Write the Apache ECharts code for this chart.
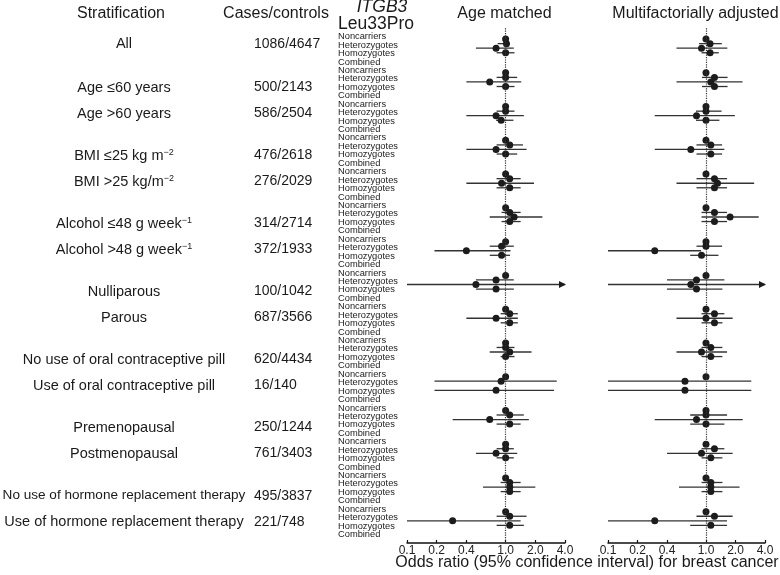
<!DOCTYPE html>
<html>
<head>
<meta charset="utf-8">
<script src="https://cdn.jsdelivr.net/npm/echarts@6/dist/echarts.min.js"></script>
<style>
  html, body { margin: 0; padding: 0; background: #fff; }
  #chart { width: 780px; height: 575px; }
</style>
</head>
<body>
<div id="chart"></div>
<script>
// stratum labels ({sup|..} = superscript) and case/control counts
const strata = [
  'All', 'Age ≤60 years', 'Age >60 years',
  'BMI ≤25 kg m{sup|−2}', 'BMI >25 kg/m{sup|−2}',
  'Alcohol ≤48 g week{sup|−1}', 'Alcohol >48 g week{sup|−1}',
  'Nulliparous', 'Parous',
  'No use of oral contraceptive pill', 'Use of oral contraceptive pill',
  'Premenopausal', 'Postmenopausal',
  'No use of hormone replacement therapy', 'Use of hormone replacement therapy'
]
const casesControls = [
  '1086/4647', '500/2143', '586/2504', '476/2618', '276/2029', '314/2714', '372/1933',
  '100/1042', '687/3566', '620/4434', '16/140', '250/1244', '761/3403', '495/3837', '221/748'
]
const genotypes = ['Noncarriers', 'Heterozygotes', 'Homozygotes', 'Combined']
const xTicks = [0.1, 0.2, 0.4, 1, 2, 4]
const referenceOR = 1.0 // noncarriers

// [odds ratio, lower 95% CI, upper 95% CI] per stratum
const ageHet = [
  [1.02, 0.83, 1.1], [1.0, 0.81, 1.31], [1.0, 0.81, 1.23], [1.1, 0.81, 1.5], [1.1, 0.81, 1.42],
  [1.1, 0.91, 1.42], [0.91, 0.69, 1.21], [0.8, 0.5, 1.21], [1.1, 0.89, 1.33], [1.0, 0.81, 1.23],
  [0.9, 0.19, 3.3], [1.1, 0.81, 1.53], [1.0, 0.81, 1.21], [1.1, 0.89, 1.42], [1.1, 0.81, 1.63]
]
const ageHom = [
  [0.8, 0.5, 1.21], [0.69, 0.4, 1.44], [0.8, 0.4, 1.53], [0.8, 0.4, 1.63], [0.91, 0.4, 1.94],
  [1.22, 0.69, 2.36], [0.4, 0.19, 1.12], [0.5, 0.1, 6.0], [0.8, 0.4, 1.33], [1.1, 0.69, 1.83],
  null, [0.69, 0.29, 1.72], [0.8, 0.5, 1.31], [1.1, 0.59, 2.0], [0.29, 0.1, 1.42]
]
const ageComb = [
  [1.0, 0.81, 1.23], [1.0, 0.81, 1.23], [0.9, 0.8, 1.2], [1.0, 0.81, 1.31], [1.1, 0.81, 1.42],
  [1.1, 0.91, 1.42], [0.91, 0.69, 1.11], [0.8, 0.5, 1.21], [1.1, 0.89, 1.33], [1.0, 0.89, 1.23],
  [0.8, 0.19, 3.1], [1.1, 0.81, 1.42], [1.0, 0.81, 1.21], [1.1, 0.89, 1.42], [1.1, 0.81, 1.53]
]
const adjHet = [
  [1.1, 0.85, 1.45], [1.22, 0.91, 1.66], [1.0, 0.79, 1.44], [1.12, 0.8, 1.46], [1.22, 0.8, 1.64],
  [1.22, 0.9, 1.64], [1.0, 0.8, 1.46], [0.8, 0.4, 1.54], [1.22, 0.9, 1.54], [1.12, 0.9, 1.47],
  [0.61, 0.1, 2.9], [1.0, 0.69, 1.64], [1.22, 0.9, 1.54], [1.12, 0.9, 1.47], [1.22, 0.8, 1.87]
]
const adjHom = [
  [0.9, 0.5, 1.65], [1.12, 0.5, 2.36], [0.8, 0.3, 1.97], [0.7, 0.3, 1.54], [1.31, 0.5, 3.1],
  [1.76, 0.9, 3.45], [0.3, 0.1, 0.89], [0.7, 0.1, 6.0], [1.0, 0.5, 1.87], [0.9, 0.5, 1.64],
  null, [0.8, 0.3, 2.37], [0.9, 0.4, 1.87], [1.12, 0.53, 2.2], [0.3, 0.1, 1.64]
]
const adjComb = [
  [1.1, 0.9, 1.35], [1.22, 0.91, 1.66], [1.0, 0.79, 1.37], [1.12, 0.8, 1.46], [1.22, 0.8, 1.64],
  [1.22, 0.9, 1.64], [0.9, 0.69, 1.34], [0.8, 0.4, 1.47], [1.22, 0.9, 1.47], [1.12, 0.9, 1.47],
  [0.61, 0.1, 2.9], [1.0, 0.69, 1.54], [1.12, 0.9, 1.47], [1.12, 0.9, 1.47], [1.12, 0.69, 1.64]
]

const FONT = '"Liberation Sans", Arial, Helvetica, sans-serif'
const X_MIN = 0.1
const X_MAX = 4
const ROW_MIN = -1
const ROW_MAX = strata.length * 4 // one spare row above and below
const INK = '#1c1c1c'

// points sit a bit tighter than the label rows
function dotRow(g, k) {
  return g * 4 + 1.1 + (k - 1.5) * 0.54
}
function labelRow(g) {
  if (g === 0) return 0.85
  return g * 4 + (g % 2 === 1 ? 2.0 : 1.05) + g * 0.03
}

function buildPanel(het, hom, comb) {
  const points = []
  const intervals = []
  strata.forEach((s, g) => {
    points.push([referenceOR, dotRow(g, 0)])
    ;[het, hom, comb].forEach((arr, i) => {
      const d = arr[g]
      if (!d) return
      points.push([d[0], dotRow(g, i + 1)])
      intervals.push([d[1], d[2], dotRow(g, i + 1)])
    })
  })
  return { points, intervals }
}

function renderCI(params, api) {
  const lo = api.value(0)
  const hi = api.value(1)
  const row = api.value(2)
  const s = api.coord([Math.max(lo, X_MIN), row])
  const e = api.coord([Math.min(hi, X_MAX), row])
  const children = [{
    type: 'line',
    shape: { x1: s[0], y1: s[1], x2: e[0], y2: e[1] },
    style: { stroke: '#333', lineWidth: 1.3 }
  }]
  if (hi > X_MAX) {
    children.push({
      type: 'polygon',
      shape: { points: [[e[0] - 6, e[1] - 3.5], [e[0] + 1, e[1]], [e[0] - 6, e[1] + 3.5]] },
      style: { fill: INK }
    })
  }
  return { type: 'group', children }
}

const panels = [buildPanel(ageHet, ageHom, ageComb), buildPanel(adjHet, adjHom, adjComb)]
// genotype row labels, padded with the spare rows at both ends
const rowLabels = [''].concat(strata.flatMap(() => genotypes), [''])

const chart = echarts.init(document.getElementById('chart'))

const valueY = i => ({
  type: 'value',
  gridIndex: i,
  position: 'left',
  inverse: true,
  min: ROW_MIN,
  max: ROW_MAX,
  axisLine: { show: false, onZero: false },
  axisTick: { show: false },
  splitLine: { show: false },
  axisLabel: { show: false }
})

chart.setOption({
  animation: false,
  grid: [
    { left: 407, width: 158, top: 28.2, height: 514.8 },
    { left: 608, width: 157, top: 28.2, height: 514.8 }
  ],
  xAxis: [0, 1].map(i => ({
    type: 'log',
    logBase: 10,
    gridIndex: i,
    position: 'bottom',
    min: X_MIN,
    max: X_MAX,
    axisLine: { onZero: false, lineStyle: { color: '#111', width: 1.5 } },
    axisTick: { inside: true, length: 3, customValues: xTicks, lineStyle: { color: '#111', width: 1.2 } },
    axisLabel: {
      customValues: xTicks,
      formatter: v => Number(v).toFixed(1),
      margin: 2,
      fontSize: 12,
      color: '#222',
      fontFamily: FONT
    },
    splitLine: { show: false }
  })),
  yAxis: [
    valueY(0),
    valueY(1),
    {
      type: 'category',
      gridIndex: 0,
      position: 'left',
      offset: 0,
      inverse: true,
      boundaryGap: false,
      data: rowLabels,
      axisLine: { show: false, onZero: false },
      axisTick: { show: false },
      splitLine: { show: false },
      axisLabel: {
        interval: 0,
        align: 'left',
        margin: 69,
        fontSize: 9.3,
        color: '#222',
        fontFamily: FONT
      }
    }
  ],
  series: panels.flatMap((p, i) => [
    {
      type: 'custom',
      xAxisIndex: i,
      yAxisIndex: i,
      renderItem: renderCI,
      encode: { x: [0, 1], y: 2 },
      data: p.intervals,
      z: 2
    },
    {
      type: 'scatter',
      xAxisIndex: i,
      yAxisIndex: i,
      symbolSize: 7,
      itemStyle: { color: INK, opacity: 1 },
      data: p.points,
      z: 3,
      markLine: {
        silent: true,
        symbol: 'none',
        label: { show: false },
        lineStyle: { type: 'dotted', color: '#333', width: 1.2 },
        data: [{ xAxis: referenceOR }]
      }
    }
  ])
})

// text columns on the left and the headings
const graphics = []
function text(x, y, str, size, extra) {
  graphics.push({
    type: 'text',
    x, y,
    style: Object.assign({
      text: str,
      fontFamily: FONT,
      fontSize: size,
      fill: '#1a1a1a',
      align: 'center',
      verticalAlign: 'middle',
      rich: { sup: { fontSize: 9, verticalAlign: 'top', fontFamily: FONT, fill: '#1a1a1a' } }
    }, extra || {})
  })
}
text(121, 13.5, 'Stratification', 16)
text(276, 13.5, 'Cases/controls', 16)
text(382, 7, 'ITGB3', 17.5, { fontStyle: 'italic' })
text(376, 24, 'Leu33Pro', 17.5)
text(504.5, 13.5, 'Age matched', 16)
text(695.5, 13.5, 'Multifactorially adjusted', 16)
text(587, 563, 'Odds ratio (95% confidence interval) for breast cancer', 16)

// long stratum names are squeezed so they fit left of the counts column
const ctx = document.createElement('canvas').getContext('2d')
function fitSize(str, size, maxWidth) {
  ctx.font = size + 'px ' + FONT
  const w = ctx.measureText(str.replace(/\{sup\|([^}]*)\}/g, '$1')).width
  return w > maxWidth ? size * maxWidth / w : size
}

strata.forEach((s, g) => {
  const y = chart.convertToPixel({ yAxisIndex: 0 }, labelRow(g))
  text(124, y, s, fitSize(s, 14.5, 243))
  text(254, y, casesControls[g], 14, { align: 'left' })
})

chart.setOption({ graphic: graphics })
</script>
</body>
</html>
